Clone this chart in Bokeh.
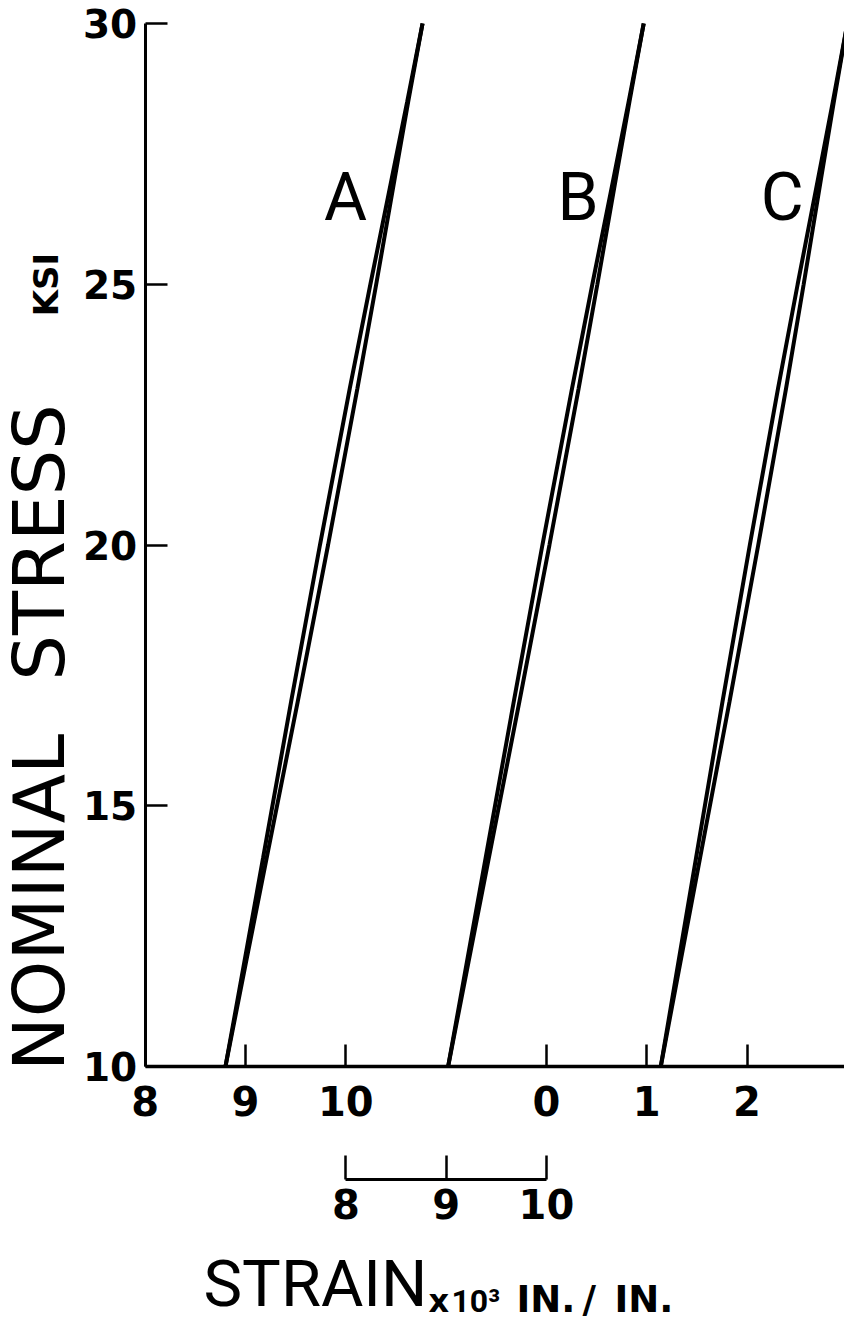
import math
from bokeh.plotting import figure
from bokeh.models import Range1d, LinearAxis, FixedTicker, Label
from bokeh.embed import file_html
from bokeh.resources import INLINE

# ---- data (strain read on the composite strain axis, x10^-3 in./in.) ----
stress = [10, 12, 14, 17, 20, 23, 25, 27, 28.5, 30]

a_left = [8.800, 8.988, 9.175, 9.455, 9.742, 10.039, 10.245, 10.455, 10.612, 10.765]
a_right = [8.800, 9.005, 9.211, 9.521, 9.823, 10.115, 10.303, 10.485, 10.622, 10.765]

b_left = [11.020, 11.207, 11.394, 11.675, 11.960, 12.255, 12.458, 12.666, 12.820, 12.970]
b_right = [11.020, 11.223, 11.426, 11.731, 12.030, 12.321, 12.508, 12.690, 12.828, 12.970]

c_left = [13.140, 13.316, 13.492, 13.756, 14.028, 14.309, 14.505, 14.706, 14.856, 15.000]
c_right = [13.140, 13.336, 13.532, 13.826, 14.112, 14.389, 14.565, 14.736, 14.866, 15.000]

curve_names = ["A", "B", "C"]
curve_label_x = [9.997, 12.315, 14.35]
curve_label_y = [26.66, 26.66, 26.66]

x_tick_positions = [8, 9, 10, 12, 13, 14]
x_tick_labels = ["8", "9", "10", "0", "1", "2"]
sub_tick_positions = [8, 9, 10]
sub_tick_labels = ["8", "9", "10"]
y_ticks = [10, 15, 20, 25, 30]
y_tick_labels = ["10", "15", "20", "25", "30"]

NUM_FONT = "DejaVu Sans"
BIG_FONT = "Roboto"

W, H = 844, 1318
# the drawing area fills the whole canvas; axes sit at fixed data locations
p = figure(width=W, height=H,
           x_range=Range1d(6.557, 14.972), y_range=Range1d(5.168, 30.441),
           output_backend="svg", toolbar_location=None,
           min_border_left=0, min_border_right=0,
           min_border_top=0, min_border_bottom=0)
p.outline_line_color = None
p.grid.visible = False
p.background_fill_color = "white"
p.border_fill_color = "white"

# curves
for xs in (a_left, a_right, b_left, b_right, c_left, c_right):
    p.line(xs, stress, line_color="black", line_width=4, line_cap="butt")


def style_axis(ax, tick_in, lw):
    ax.major_tick_in = tick_in
    ax.major_tick_out = 0
    ax.minor_tick_line_color = None
    ax.axis_line_width = lw
    ax.major_tick_line_width = 2.5
    ax.axis_line_color = "black"
    ax.major_tick_line_color = "black"
    ax.major_label_text_font = NUM_FONT
    ax.major_label_text_font_style = "bold"
    ax.major_label_text_color = "black"


# ---- main x axis ----
xa = p.xaxis[0]
xa.ticker = FixedTicker(ticks=x_tick_positions)
xa.major_label_overrides = {t: l for t, l in zip(x_tick_positions, x_tick_labels)}
style_axis(xa, 22, 3.5)
xa.major_label_text_font_size = "40px"
xa.major_label_standoff = 19
xa.fixed_location = 10
xa.bounds = (8, 14.972)

# ---- y axis ----
ya = p.yaxis[0]
ya.ticker = FixedTicker(ticks=y_ticks)
ya.major_label_overrides = {t: l for t, l in zip(y_ticks, y_tick_labels)}
style_axis(ya, 22, 3)
ya.major_label_text_font_size = "39px"
ya.major_label_standoff = 8
ya.fixed_location = 8
ya.bounds = (10, 30)

# ---- auxiliary strain scale (8, 9, 10) for curve B ----
p.extra_x_ranges = {"sub": Range1d(4.557, 12.972)}
sub = LinearAxis(x_range_name="sub", ticker=FixedTicker(ticks=sub_tick_positions),
                 bounds=(8, 10), fixed_location=7.833)
sub.major_label_overrides = {t: l for t, l in zip(sub_tick_positions, sub_tick_labels)}
style_axis(sub, 24, 3)
sub.major_label_text_font_size = "40px"
sub.major_label_standoff = 9
p.add_layout(sub, "below")

# ---- curve letters ----
for name, lx, ly in zip(curve_names, curve_label_x, curve_label_y):
    p.add_layout(Label(x=lx, y=ly, text=name, text_align="center",
                       text_baseline="middle", text_font=BIG_FONT,
                       text_font_size="66px", text_color="black"))


def screen_label(text, sx, sy, font, size, bold=False, angle=0.0, align="left"):
    p.add_layout(Label(x=sx, y=H - sy, x_units="screen", y_units="screen",
                       text=text, angle=angle, text_align=align,
                       text_baseline="middle", text_font=font,
                       text_font_style="bold" if bold else "normal",
                       text_font_size=f"{size}px", text_color="black"))


# ---- axis titles (positions in canvas px from the top-left) ----
screen_label("NOMINAL", 38, 902, NUM_FONT, 72, angle=math.pi / 2, align="center")
screen_label("STRESS", 38, 542, NUM_FONT, 72, angle=math.pi / 2, align="center")
screen_label("KSI", 45, 284, NUM_FONT, 34, bold=True, angle=math.pi / 2, align="center")

screen_label("STRAIN", 203, 1283.5, BIG_FONT, 65)
screen_label("x", 428, 1300.4, NUM_FONT, 32, bold=True)
screen_label("10\u00b3", 451, 1300.5, BIG_FONT, 32, bold=True)
for txt, sx in (("IN.", 516), ("/", 582), ("IN.", 614)):
    screen_label(txt, sx, 1298.5, NUM_FONT, 37, bold=True)

open("out.html", "w").write(file_html(p, INLINE))
